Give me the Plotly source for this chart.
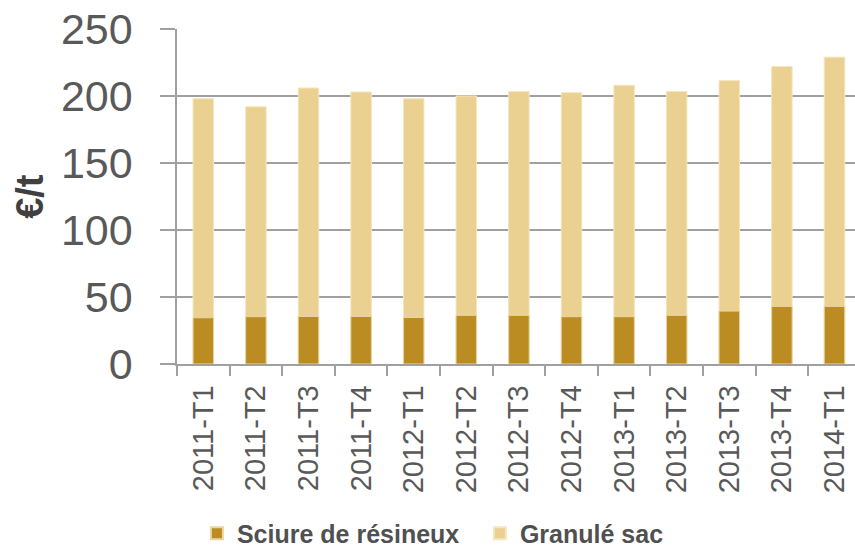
import plotly.graph_objects as go

categories = ["2011-T1", "2011-T2", "2011-T3", "2011-T4", "2012-T1", "2012-T2", "2012-T3",
              "2012-T4", "2013-T1", "2013-T2", "2013-T3", "2013-T4", "2014-T1"]
sciure = [34.5, 35.3, 35.5, 35.5, 34.7, 36.3, 36.3, 35.3, 35.3, 36.3, 39.5, 43, 43]
granule = [198, 192, 206, 203, 198, 200, 203.3, 202.5, 208, 203.3, 211.5, 222, 229]
y_ticks = [0, 50, 100, 150, 200, 250]

GRID = "#A0A0A0"
TXT = "#595959"

fig = go.Figure()
fig.add_trace(go.Bar(
    x=categories, y=granule, name="Granulé sac", legendrank=2,
    marker=dict(color="#EAD191", line=dict(color="#F4E6BF", width=1)),
    width=0.39,
))
fig.add_trace(go.Bar(
    x=categories, y=sciure, name="Sciure de résineux", legendrank=1,
    marker=dict(color="#BA8C22", line=dict(color="#E9D6A6", width=1)),
    width=0.39,
))

fig.update_layout(
    width=855, height=547,
    barmode="overlay",
    paper_bgcolor="white", plot_bgcolor="white",
    margin=dict(l=177, r=0, t=29, b=183, pad=0, autoexpand=False),
    font=dict(family="Liberation Sans, Arial, sans-serif", color=TXT),
    showlegend=True,
    legend=dict(
        orientation="h", xref="container", yref="paper",
        x=0.2303, xanchor="left", y=-0.506, yanchor="middle",
        font=dict(family="Liberation Sans, Arial, sans-serif", size=25, color="#505050",
                  weight="bold"),
        itemwidth=30, itemsizing="constant", bgcolor="rgba(0,0,0,0)",
        entrywidth=238, entrywidthmode="pixels",
    ),
    xaxis=dict(
        type="category", range=[-0.5, 12.39], automargin=False,
        tickangle=-90, tickfont=dict(size=29, color=TXT),
        showline=True, linecolor=GRID, linewidth=1.5,
        ticks="outside", tickson="boundaries", ticklen=10, tickcolor=GRID, tickwidth=1.5,
        ticklabelstandoff=8,
        showgrid=False, fixedrange=True,
    ),
    yaxis=dict(
        range=[0, 250], tickvals=y_ticks, automargin=False,
        ticklabeloverflow="allow",
        tickfont=dict(size=43, color=TXT),
        showline=True, linecolor=GRID, linewidth=1.5,
        ticks="outside", ticklen=15, tickcolor=GRID, tickwidth=1.5,
        ticklabelstandoff=19,
        showgrid=True, gridcolor=GRID, gridwidth=1.5,
        zeroline=False,
    ),
    annotations=[dict(
        text="<b>€/t</b>", textangle=-90, showarrow=False,
        xref="paper", yref="paper", x=-0.2168, y=0.499,
        xanchor="center", yanchor="middle",
        font=dict(size=38, color="#404040"),
    )],
)

fig.write_html("out.html", config={"displayModeBar": False},
               post_script="document.body.style.margin='0';")
